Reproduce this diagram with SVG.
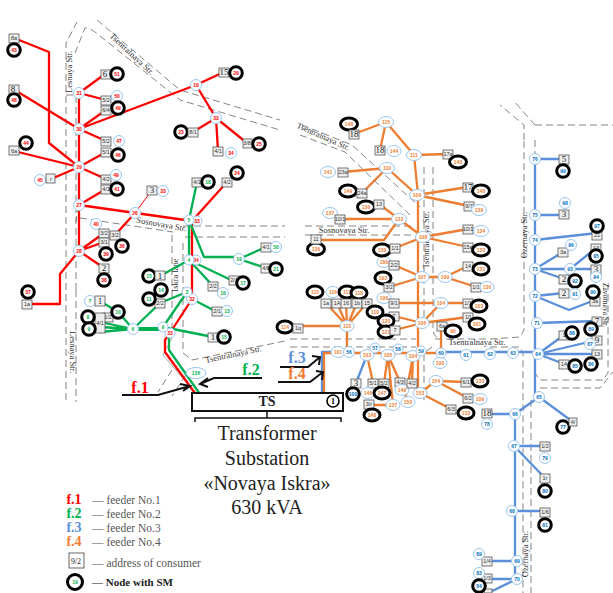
<svg xmlns="http://www.w3.org/2000/svg" width="613" height="593" viewBox="0 0 613 593">
<style>
text{font-family:"Liberation Serif",serif;text-anchor:middle}
.st{fill:none;stroke:#777;stroke-width:.9;stroke-dasharray:7 4}
.sl{font-size:8.5px;fill:#333}
.R,.G,.B,.O{fill:none;stroke-width:2.3;stroke-linejoin:round}
.R{stroke:#f00}.G{stroke:#00b050}.B{stroke:#5b8fd9}.O{stroke:#ed7d31}
.n{fill:#fff;stroke:#9cc6ee;stroke-width:1}
.s{fill:#fff;stroke:#000;stroke-width:3}
circle.s{r:6.3px}
.b{fill:#eee;stroke:#555;stroke-width:.8}
.bt{font-size:5.5px;fill:#333;font-family:"Liberation Sans",sans-serif}
.bb{font-size:9px;fill:#222}
.r,.g,.l,.o{font-size:5px;font-weight:bold;font-family:"Liberation Sans",sans-serif}
.r{fill:#f00}.g{fill:#00b050}.l{fill:#0070c0}.o{fill:#ed7d31}
.k{fill:none;stroke:#111;stroke-width:2}
.leg{font-size:11.5px;fill:#555}
.big{font-size:20px;fill:#222}
.f{font-weight:bold;font-size:16px}
.lf{font-weight:bold;font-size:14px}
</style>
<g id="streets">
<path class="st" d="M66 400V43L77 22"/>
<path class="st" d="M76 290V95H66M75 53L85 28Q88 27 95 32L180 100L280 130M97 20L180 90L280 120"/>
<path class="st" d="M302 125L352 145L420 207M300 135L345 152L410 215"/>
<path class="st" d="M80 218L173 232M78 205L76 222M183 226H285M185 237H285M305 226H413M305 235H413"/>
<path class="st" d="M172 235V338M183 243V353L192 360L285 341"/>
<path class="st" d="M76 290V402M172 370L158 392M186 375L172 396"/>
<path d="M172 338L163 355L186 382" fill="none" stroke="#aaa" stroke-width="1"/>
<path class="st" d="M290 339H416M290 347H416M435 339H490L520 337L524 330V140M432 347L424 353V400M490 347H520L523 353V593M531 400V593"/>
<path class="st" d="M424 167V330M433 167V330Q433 336 440 339"/>
<path class="st" d="M535 140V373L540 380H603L608 373V285M540 388H600L613 372M535 125H613M524 140L524 125L500 105M535 125L513 100"/>
<text class="sl" transform="translate(130,56) rotate(43)">Tsentralnaya Str.</text>
<text class="sl" transform="translate(72,72) rotate(-90)">Lesnaya Str.</text>
<text class="sl" transform="translate(70,352) rotate(90)">Lesnaya Str.</text>
<text class="sl" transform="translate(161,227) rotate(10)">Sosnovaya Str.</text>
<text class="sl" transform="translate(178,275) rotate(-90)">Iskra lane</text>
<text class="sl" transform="translate(234,357) rotate(-12)">Tsentralnaya Str.</text>
<text class="sl" transform="translate(322,139) rotate(24)">Tsentralnaya Str.</text>
<text class="sl" x="344" y="233">Sosnovaya Str.</text>
<text class="sl" transform="translate(429,240) rotate(-90)">Tsentralnaya Str.</text>
<text class="sl" x="477" y="345">Tsentralnaya Str.</text>
<text class="sl" transform="translate(527,235) rotate(-90)">Ozernaya Str.</text>
<text class="sl" transform="translate(528,554) rotate(-90)">Ozernaya Str.</text>
<text class="sl" style="font-size:7.5px" transform="translate(603,305) rotate(90)">Zavornaya Str.</text>
</g>
<g id="connectors">
<path class="R" d="M14 38L49 52V143L79 167M13 89L79 129M79 93V251L60 274V304H32M79 93L105 74M79 93L106 100M79 129L106 110M79 129L196 85M79 129L106 141M79 167L106 152M79 167L14 151M79 167L51 179M79 167L106 179M79 205L106 189M79 205L192 221M135 213L115 235M196 85L224 72M196 85L216 118L193 132M216 118L218 151M216 118L247 143M192 221L227 182M79 251L104 233M79 251L104 242M79 251L104 268M192 221V299L170 333L165 340V352L197 396"/>
<path class="R" style="stroke-width:1" d="M135 213L152 190"/>
<path class="G" d="M197 182L189 220V260M189 220L204 257H239M239 259L266 247M239 259L266 268M189 260L160 276M189 260L213 286M189 260L231 280M187 292L163 327M187 292L160 303L133 329M192 299L217 312M163 327L213 337M133 329L118 312L100 301M133 329L100 322M133 329L100 327M133 329L100 332M169 335V350L202 397"/>
<path class="G" style="stroke-width:4" d="M133 329H163"/>
<path class="B" d="M322 393V352H332M441 352H538M367 355L356 383M535 159V397M535 159H564M535 215H564M535 240L597 233M535 269L563 252M535 269H596M535 269L564 279M570 269L596 248M535 296L564 293M535 296L569 310L595 300M537 323L597 321M538 354L564 335M538 354L597 340M538 354L597 354M538 354L564 364M539 397L515 414V579M515 414H487M539 397L573 422M514 446H545M514 446L545 478M512 511H545M517 561H487M517 579H487M517 579L490 592"/>
<path class="O" d="M324 393V353H441M347 326V352M347 326L326 303M347 326L337 303M347 326L346 303M347 326L357 303M347 326L367 303M347 326H298M418 352V195L414 155L386 122L354 134M386 122L380 150M414 155L448 154M417 195L468 187M417 195L469 206M417 195L387 168L343 172M387 168L362 193M423 237L468 229M423 237L468 247M423 237L395 248M423 237L399 219L379 204M399 219L340 219M399 219L384 240H316M422 277L389 287M422 277L394 265M422 277H445L468 266M445 277L476 287M422 323L394 316M422 323L395 330M422 323L441 303M394 303H468M422 323L468 317M441 353V326M367 355L373 383M388 355L384 383M388 355L393 405H369M388 355L400 382M413 356L412 383M413 356L405 400M418 352V393H420L451 409M420 393L436 381L466 382M436 381L468 398"/>
<path class="k" d="M122 395H158L190 386M180 384L190 386L183 391M262 378H214L200 384M208 378L200 384L208 387M280 367H308L320 357M312 356L320 357L319 365M278 382H310L323 372M316 371L323 372L322 380"/>
</g>
<g id="red-nodes">
<g id="r43"><rect class="b" x="9" y="34" width="10" height="9"/><text class="bt" x="14" y="40">8a</text><circle class="s" cx="14" cy="50" r="6"/><text class="r" x="14" y="52">43</text></g>
<g id="r48"><rect class="b" x="9" y="85" width="10" height="9"/><text class="bb" x="13" y="92">8</text><circle class="s" cx="14" cy="100" r="6"/><text class="r" x="14" y="102">48</text></g>
<g id="r31"><circle class="n" cx="79" cy="93" r="5.5"/><text class="r" x="79" y="95">31</text></g>
<g id="r51"><rect class="b" x="101" y="70" width="10" height="9"/><text class="bb" x="105" y="77">6</text><circle class="s" cx="117" cy="74" r="6"/><text class="r" x="117" y="76">51</text></g>
<g id="r50"><rect class="b" x="101" y="96" width="10" height="9"/><text class="bt" x="106" y="102">5/2</text><circle class="n" cx="117" cy="96" r="5.5"/><text class="r" x="117" y="98">50</text></g>
<g id="r49"><rect class="b" x="101" y="106" width="10" height="9"/><text class="bt" x="106" y="112">6/4</text><circle class="s" cx="118" cy="108" r="6"/><text class="r" x="118" y="110">49</text></g>
<g id="r30"><circle class="n" cx="79" cy="129" r="5.5"/><text class="r" x="79" y="131">30</text></g>
<g id="r47"><rect class="b" x="101" y="137" width="10" height="9"/><text class="bt" x="106" y="143">5/2</text><circle class="n" cx="119" cy="141" r="5.5"/><text class="r" x="119" y="143">47</text></g>
<g id="r46"><rect class="b" x="101" y="148" width="10" height="9"/><text class="bt" x="106" y="154">5/1</text><circle class="s" cx="118" cy="155" r="6"/><text class="r" x="118" y="157">46</text></g>
<g id="r29"><circle class="n" cx="79" cy="167" r="5.5"/><text class="r" x="79" y="169">29</text></g>
<g id="r44"><rect class="b" x="9" y="146" width="10" height="9"/><text class="bt" x="14" y="153">6a</text><circle class="s" cx="26" cy="143" r="6"/><text class="r" x="26" y="145">44</text></g>
<g id="r45"><circle class="n" cx="40" cy="180" r="5.5"/><text class="r" x="40" y="182">45</text><rect class="b" x="46" y="174" width="9" height="9"/><text class="bt" x="51" y="181">r</text></g>
<g id="r42"><rect class="b" x="101" y="175" width="10" height="9"/><text class="bt" x="106" y="181">4/2</text><circle class="n" cx="116" cy="175" r="5.5"/><text class="r" x="116" y="177">49</text></g>
<g id="r41"><rect class="b" x="101" y="185" width="10" height="9"/><text class="bt" x="106" y="191">4/1</text><circle class="s" cx="117" cy="189" r="6"/><text class="r" x="117" y="191">41</text></g>
<g id="r27"><circle class="n" cx="79" cy="205" r="5.5"/><text class="r" x="79" y="207">27</text></g>
<g id="r26"><circle class="n" cx="135" cy="213" r="5.5"/><text class="r" x="135" y="215">26</text></g>
<g id="r33b"><rect class="b" x="147" y="186" width="10" height="9"/><text class="bb" x="152" y="193">3</text><circle class="n" cx="163" cy="191" r="5.5"/><text class="r" x="163" y="193">33</text></g>
<g id="r19"><circle class="n" cx="196" cy="85" r="5.5"/><text class="r" x="196" y="87">19</text></g>
<g id="r29b"><rect class="b" x="219" y="68" width="10" height="9"/><text class="bb" x="224" y="75">15</text><circle class="s" cx="236" cy="73" r="6"/><text class="r" x="236" y="75">29</text></g>
<g id="r33"><circle class="n" cx="216" cy="118" r="5.5"/><text class="r" x="216" y="120">33</text></g>
<g id="r23"><circle class="s" cx="181" cy="132" r="6"/><text class="r" x="181" y="134">23</text><rect class="b" x="188" y="128" width="10" height="9"/><text class="bt" x="193" y="134">8/1</text></g>
<g id="r34"><rect class="b" x="213" y="147" width="10" height="9"/><text class="bt" x="218" y="153">4/1</text><circle class="n" cx="231" cy="153" r="5.5"/><text class="r" x="231" y="155">34</text></g>
<g id="r25"><rect class="b" x="243" y="139" width="9" height="9"/><text class="bt" x="247" y="145">3/8</text><circle class="s" cx="259" cy="144" r="6"/><text class="r" x="259" y="146">25</text></g>
<g id="r24"><rect class="b" x="222" y="178" width="10" height="9"/><text class="bt" x="227" y="184">4/2</text><circle class="s" cx="237" cy="173" r="6"/><text class="r" x="237" y="175">24</text></g>
<g id="r40"><circle class="n" cx="96" cy="224" r="5.5"/><text class="r" x="96" y="226">40</text><rect class="b" x="99" y="229" width="10" height="9"/><text class="bt" x="104" y="235">3/2</text></g>
<g id="r39"><rect class="b" x="99" y="238" width="10" height="9"/><text class="bt" x="104" y="244">3/1</text><circle class="s" cx="106" cy="254" r="6"/><text class="r" x="106" y="256">39</text></g>
<g id="r36"><rect class="b" x="110" y="231" width="10" height="9"/><text class="bt" x="115" y="237">3/2</text><circle class="s" cx="122" cy="246" r="6"/><text class="r" x="122" y="248">36</text></g>
<g id="r38"><rect class="b" x="99" y="264" width="10" height="9"/><text class="bb" x="104" y="271">2</text><circle class="s" cx="104" cy="280" r="6"/><text class="r" x="104" y="282">38</text></g>
<g id="r28"><circle class="n" cx="79" cy="251" r="5.5"/><text class="r" x="79" y="253">28</text></g>
<g id="r37"><circle class="s" cx="28" cy="292" r="6"/><text class="r" x="28" y="294">37</text><rect class="b" x="22" y="300" width="10" height="9"/><text class="bt" x="27" y="306">1a</text></g>
<g id="r33c"><circle class="n" cx="197" cy="221" r="5"/><text class="r" x="197" y="223">33</text></g>
<g id="r34b"><circle class="n" cx="196" cy="260" r="5"/><text class="r" x="196" y="262">34</text></g>
<g id="r32"><circle class="n" cx="192" cy="299" r="5.5"/><text class="r" x="192" y="301">32</text></g>
<g id="r33d"><circle class="n" cx="170" cy="333" r="5"/><text class="r" x="170" y="335">33</text></g>
</g>
<g id="green-nodes">
<g id="g18"><rect class="b" x="192" y="178" width="10" height="9"/><text class="bt" x="197" y="184">4/1</text><circle class="s" cx="208" cy="182" r="6"/><text class="g" x="208" y="184">18</text></g>
<g id="g5"><circle class="n" cx="189" cy="220" r="5"/><text class="g" x="189" y="222">5</text></g>
<g id="g4"><circle class="n" cx="189" cy="260" r="5"/><text class="g" x="189" y="262">4</text></g>
<g id="g19"><circle class="n" cx="239" cy="259" r="5.5"/><text class="g" x="239" y="261">19</text></g>
<g id="g20"><rect class="b" x="261" y="243" width="10" height="9"/><text class="bt" x="266" y="249">4/1</text><circle class="n" cx="276" cy="247" r="5.5"/><text class="g" x="276" y="249">50</text></g>
<g id="g21"><rect class="b" x="261" y="264" width="10" height="9"/><text class="bt" x="266" y="270">4/8</text><circle class="s" cx="276" cy="269" r="6"/><text class="g" x="276" y="271">21</text></g>
<g id="g15"><circle class="s" cx="149" cy="276" r="6"/><text class="g" x="149" y="278">15</text><rect class="b" x="155" y="271" width="10" height="9"/><text class="bb" x="160" y="279">1</text></g>
<g id="g16"><rect class="b" x="208" y="282" width="10" height="9"/><text class="bt" x="213" y="288">2/2</text><circle class="n" cx="223" cy="293" r="5.5"/><text class="g" x="223" y="295">16</text></g>
<g id="g17"><rect class="b" x="229" y="276" width="10" height="9"/><text class="bt" x="234" y="282">2/1</text><circle class="s" cx="243" cy="283" r="6"/><text class="g" x="243" y="285">17</text></g>
<g id="g3"><circle class="n" cx="187" cy="292" r="5"/><text class="g" x="187" y="294">3</text></g>
<g id="g14"><rect class="b" x="155" y="299" width="10" height="9"/><text class="bt" x="160" y="305">2/2</text><circle class="s" cx="161" cy="290" r="6"/><text class="g" x="161" y="292">14</text></g>
<g id="g11"><circle class="s" cx="149" cy="299" r="6"/><text class="g" x="149" y="301">11</text></g>
<g id="g13"><rect class="b" x="212" y="307" width="10" height="9"/><text class="bt" x="217" y="313">2/1</text><circle class="n" cx="227" cy="311" r="5.5"/><text class="g" x="227" y="313">13</text></g>
<g id="g6"><circle class="n" cx="133" cy="329" r="5.5"/><text class="g" x="133" y="331">6</text></g>
<g id="g7"><circle class="n" cx="90" cy="301" r="5.5"/><text class="g" x="90" y="303">7</text><rect class="b" x="95" y="296" width="10" height="10"/><text class="bb" x="100" y="304">1</text></g>
<g id="g10"><rect class="b" x="103" y="313" width="10" height="9"/><text class="bt" x="108" y="319">1/2</text><circle class="s" cx="118" cy="312" r="6"/><text class="g" x="118" y="314">10</text></g>
<g id="g89"><rect class="b" x="95" y="313" width="10" height="20"/><text class="bt" x="100" y="325">4/1</text><circle class="s" cx="88" cy="317" r="6"/><text class="g" x="88" y="319">8</text><circle class="s" cx="89" cy="329" r="6"/><text class="g" x="89" y="331">9</text></g>
<g id="g9"><circle class="n" cx="163" cy="327" r="5"/><text class="g" x="163" y="329">9</text></g>
<g id="g15b"><rect class="b" x="208" y="333" width="10" height="9"/><text class="bb" x="213" y="340">1</text><circle class="s" cx="224" cy="337" r="6"/><text class="g" x="224" y="339">15</text></g>
<g id="g136"><ellipse class="n" cx="196" cy="373" rx="10" ry="5.5"/><text class="g" x="196" y="375">136</text></g>
</g>
<g id="orange-nodes">
<g id="o113"><ellipse class="n" cx="347" cy="326" rx="7" ry="5.5"/><text class="o" x="347" y="328">113</text></g>
<g id="o115"><ellipse class="s" cx="315" cy="292" rx="8" ry="6"/><text class="o" x="315" y="294">115</text><rect class="b" x="321" y="299" width="10" height="9"/><text class="bt" x="326" y="305">1a</text></g>
<g id="o116"><ellipse class="n" cx="333" cy="292" rx="7" ry="5.5"/><text class="o" x="333" y="294">116</text><rect class="b" x="332" y="299" width="10" height="9"/><text class="bt" x="337" y="305">1A</text></g>
<g id="o117"><ellipse class="s" cx="347" cy="292" rx="8" ry="6"/><text class="o" x="347" y="294">117</text><rect class="b" x="341" y="299" width="10" height="9"/><text class="bt" x="346" y="305">16</text></g>
<g id="o118"><ellipse class="s" cx="359" cy="293" rx="8" ry="6"/><text class="o" x="359" y="295">118</text><rect class="b" x="352" y="299" width="10" height="9"/><text class="bt" x="357" y="305">1b</text><rect class="b" x="362" y="299" width="10" height="9"/><text class="bt" x="367" y="305">15</text></g>
<g id="o114"><ellipse class="s" cx="285" cy="327" rx="8" ry="6"/><text class="o" x="285" y="329">114</text><rect class="b" x="293" y="324" width="10" height="9"/><text class="bt" x="298" y="330">1q</text></g>
<g id="o119"><ellipse class="s" cx="375" cy="312" rx="8" ry="6"/><text class="o" x="375" y="314">119</text><rect class="b" x="389" y="312" width="10" height="9"/><text class="bt" x="394" y="318">7</text></g>
<g id="o120"><ellipse class="s" cx="386" cy="321" rx="8" ry="6"/><text class="o" x="386" y="323">120</text></g>
<g id="o121"><ellipse class="s" cx="386" cy="332" rx="8" ry="6"/><text class="o" x="386" y="334">121</text><rect class="b" x="390" y="326" width="10" height="9"/><text class="bt" x="395" y="332">7</text></g>
<g id="o106"><ellipse class="n" cx="422" cy="323" rx="7" ry="5.5"/><text class="o" x="422" y="325">106</text></g>
<g id="o107"><ellipse class="n" cx="422" cy="277" rx="7" ry="5.5"/><text class="o" x="422" y="279">107</text></g>
<g id="o192"><ellipse class="s" cx="383" cy="278" rx="8" ry="6"/><text class="o" x="383" y="280">192</text><rect class="b" x="384" y="283" width="10" height="9"/><text class="bt" x="389" y="289">3/2</text></g>
<g id="o196"><ellipse class="n" cx="384" cy="298" rx="7" ry="5.5"/><text class="o" x="384" y="300">196</text><rect class="b" x="389" y="299" width="10" height="9"/><text class="bt" x="394" y="305">9/1</text></g>
<g id="o194"><ellipse class="n" cx="441" cy="303" rx="7" ry="5.5"/><text class="o" x="441" y="305">104</text></g>
<g id="o103"><rect class="b" x="463" y="299" width="10" height="9"/><text class="bt" x="468" y="305">1/1</text><ellipse class="s" cx="479" cy="306" rx="8" ry="6"/><text class="o" x="479" y="308">103</text></g>
<g id="o199"><ellipse class="n" cx="445" cy="277" rx="7" ry="5.5"/><text class="o" x="445" y="279">199</text></g>
<g id="o131"><rect class="b" x="463" y="262" width="10" height="9"/><text class="bt" x="468" y="268">14</text><ellipse class="s" cx="481" cy="269" rx="8" ry="6"/><text class="o" x="481" y="271">131</text></g>
<g id="o130"><rect class="b" x="471" y="283" width="10" height="9"/><text class="bt" x="476" y="289">1/1</text><ellipse class="n" cx="487" cy="287" rx="7" ry="5.5"/><text class="o" x="487" y="289">130</text></g>
<g id="o180"><ellipse class="n" cx="384" cy="262" rx="7" ry="5.5"/><text class="o" x="384" y="264">180</text><rect class="b" x="389" y="261" width="10" height="9"/><text class="bt" x="394" y="267">2/2</text></g>
<g id="o101"><rect class="b" x="463" y="313" width="10" height="9"/><text class="bt" x="468" y="319">10</text><ellipse class="s" cx="477" cy="324" rx="8" ry="6"/><text class="o" x="477" y="326">101</text></g>
<g id="o90"><rect class="b" x="437" y="322" width="10" height="9"/><text class="bt" x="442" y="328">6a</text><ellipse class="s" cx="453" cy="331" rx="8" ry="6"/><text class="o" x="453" y="333">90</text></g>
<g id="o154"><ellipse class="n" cx="436" cy="381" rx="7" ry="5.5"/><text class="o" x="436" y="383">154</text></g>
<g id="o133a"><rect class="b" x="461" y="378" width="10" height="9"/><text class="bt" x="466" y="384">6/1</text><ellipse class="s" cx="480" cy="381" rx="8" ry="6"/><text class="o" x="480" y="383">133</text></g>
<g id="o109b"><rect class="b" x="463" y="394" width="10" height="9"/><text class="bt" x="468" y="400">6/2</text><ellipse class="n" cx="480" cy="399" rx="7" ry="5.5"/><text class="o" x="480" y="401">109</text></g>
<g id="o153"><ellipse class="n" cx="420" cy="393" rx="7" ry="5.5"/><text class="o" x="420" y="395">153</text></g>
<g id="o133b"><rect class="b" x="446" y="405" width="10" height="9"/><text class="bt" x="451" y="411">6/3</text><ellipse class="s" cx="466" cy="413" rx="8" ry="6"/><text class="o" x="466" y="415">133</text></g>
<g id="o146"><rect class="b" x="368" y="379" width="10" height="9"/><text class="bt" x="373" y="385">5/1</text><ellipse class="n" cx="368" cy="393" rx="7" ry="5.5"/><text class="o" x="368" y="395">146</text></g>
<g id="o147"><rect class="b" x="379" y="379" width="10" height="9"/><text class="bt" x="384" y="385">5/2</text><ellipse class="s" cx="382" cy="393" rx="8" ry="6"/><text class="o" x="382" y="395">147</text></g>
<g id="o149"><rect class="b" x="395" y="378" width="10" height="9"/><text class="bt" x="400" y="384">4/3</text><ellipse class="n" cx="402" cy="390" rx="7" ry="5.5"/><text class="o" x="402" y="392">149</text></g>
<g id="o150"><rect class="b" x="407" y="379" width="10" height="9"/><text class="bt" x="412" y="385">4/2</text><ellipse class="n" cx="408" cy="402" rx="7" ry="5.5"/><text class="o" x="408" y="404">150</text></g>
<g id="o137"><ellipse class="n" cx="393" cy="405" rx="7" ry="5.5"/><text class="o" x="393" y="407">137</text></g>
<g id="o148"><rect class="b" x="364" y="400" width="10" height="9"/><text class="bt" x="369" y="406">3/r</text><ellipse class="s" cx="372" cy="415" rx="8" ry="6"/><text class="o" x="372" y="417">148</text></g>
<g id="o115t"><ellipse class="n" cx="386" cy="122" rx="7.5" ry="5.5"/><text class="o" x="386" y="124">115</text></g>
<g id="o148t"><ellipse class="s" cx="349" cy="124" rx="8.5" ry="6"/><text class="o" x="349" y="126">148</text><rect class="b" x="349" y="130" width="10" height="9"/><text class="bb" x="354" y="137">18</text></g>
<g id="o144"><rect class="b" x="375" y="146" width="10" height="9"/><text class="bb" x="380" y="153">18</text><ellipse class="n" cx="394" cy="151" rx="7" ry="5.5"/><text class="o" x="394" y="153">144</text></g>
<g id="o111"><ellipse class="n" cx="414" cy="155" rx="7.5" ry="5.5"/><text class="o" x="414" y="157">111</text></g>
<g id="o143"><rect class="b" x="443" y="150" width="10" height="9"/><text class="bt" x="448" y="156">17a</text><ellipse class="s" cx="458" cy="162" rx="8.5" ry="6"/><text class="o" x="458" y="164">143</text></g>
<g id="o110"><ellipse class="n" cx="387" cy="168" rx="7.5" ry="5.5"/><text class="o" x="387" y="170">110</text></g>
<g id="o141"><ellipse class="n" cx="328" cy="172" rx="7.5" ry="5.5"/><text class="o" x="328" y="174">141</text><rect class="b" x="338" y="168" width="10" height="9"/><text class="bt" x="343" y="174">23a</text></g>
<g id="o149t"><ellipse class="s" cx="348" cy="191" rx="8.5" ry="6"/><text class="o" x="348" y="193">149</text><rect class="b" x="357" y="189" width="10" height="9"/><text class="bt" x="362" y="195">24a</text></g>
<g id="o109"><ellipse class="n" cx="417" cy="195" rx="7.5" ry="5.5"/><text class="o" x="417" y="197">109</text></g>
<g id="o140"><rect class="b" x="463" y="183" width="10" height="9"/><text class="bb" x="468" y="190">17</text><ellipse class="s" cx="481" cy="191" rx="8.5" ry="6"/><text class="o" x="481" y="193">140</text></g>
<g id="o139"><rect class="b" x="464" y="202" width="10" height="9"/><text class="bt" x="469" y="208">9/7</text><ellipse class="n" cx="479" cy="210" rx="7.5" ry="5.5"/><text class="o" x="479" y="212">139</text></g>
<g id="o136"><ellipse class="s" cx="366" cy="207" rx="8.5" ry="6"/><text class="o" x="366" y="209">136</text><rect class="b" x="374" y="200" width="10" height="9"/><text class="bt" x="379" y="206">13</text></g>
<g id="o133t"><ellipse class="n" cx="399" cy="219" rx="7.5" ry="5.5"/><text class="o" x="399" y="221">133</text></g>
<g id="o137t"><ellipse class="n" cx="330" cy="213" rx="7.5" ry="5.5"/><text class="o" x="330" y="215">137</text><rect class="b" x="335" y="215" width="10" height="9"/><text class="bt" x="340" y="221">10/1</text></g>
<g id="o108"><ellipse class="n" cx="423" cy="237" rx="7.5" ry="5.5"/><text class="o" x="423" y="239">108</text></g>
<g id="o134"><rect class="b" x="463" y="225" width="10" height="9"/><text class="bt" x="468" y="231">10/1</text><ellipse class="n" cx="481" cy="231" rx="7.5" ry="5.5"/><text class="o" x="481" y="233">134</text></g>
<g id="o133c"><rect class="b" x="463" y="243" width="10" height="9"/><text class="bt" x="468" y="249">15a</text><ellipse class="s" cx="481" cy="250" rx="8.5" ry="6"/><text class="o" x="481" y="252">133</text></g>
<g id="o139b"><ellipse class="s" cx="382" cy="250" rx="8.5" ry="6"/><text class="o" x="382" y="252">139</text><rect class="b" x="390" y="244" width="10" height="9"/><text class="bt" x="395" y="250">1/1</text></g>
<g id="o136b"><ellipse class="s" cx="316" cy="249" rx="8.5" ry="6"/><text class="o" x="316" y="251">136</text><rect class="b" x="311" y="235" width="10" height="9"/><text class="bt" x="316" y="241">11</text></g>
<g id="o101b"><ellipse class="n" cx="338" cy="352" rx="7" ry="5.5"/><text class="o" x="338" y="354">101</text></g>
<g id="o103b"><ellipse class="n" cx="367" cy="355" rx="7" ry="5.5"/><text class="o" x="367" y="357">103</text></g>
<g id="o105"><ellipse class="n" cx="388" cy="355" rx="7" ry="5.5"/><text class="o" x="388" y="357">105</text></g>
<g id="o104"><ellipse class="n" cx="413" cy="356" rx="7" ry="5.5"/><text class="o" x="413" y="358">104</text></g>
<g id="o100"><ellipse class="n" cx="440" cy="363" rx="7" ry="5.5"/><text class="o" x="440" y="365">100</text></g>
</g>
<g id="blue-nodes">
<g id="l56"><circle class="n" cx="349" cy="352" r="5.5"/><text class="l" x="349" y="354">56</text></g>
<g id="l57"><circle class="n" cx="375" cy="348" r="5"/><text class="l" x="375" y="350">57</text></g>
<g id="l58"><circle class="n" cx="398" cy="349" r="5"/><text class="l" x="398" y="351">58</text></g>
<g id="l59"><circle class="n" cx="421" cy="351" r="5"/><text class="l" x="421" y="353">59</text></g>
<g id="l60"><circle class="n" cx="441" cy="353" r="5"/><text class="l" x="441" y="355">60</text></g>
<g id="l61"><circle class="n" cx="466" cy="355" r="5.5"/><text class="l" x="466" y="357">61</text></g>
<g id="l62"><circle class="n" cx="490" cy="354" r="5.5"/><text class="l" x="490" y="356">62</text></g>
<g id="l63"><circle class="n" cx="513" cy="353" r="5.5"/><text class="l" x="513" y="355">63</text></g>
<g id="l100"><rect class="b" x="351" y="379" width="10" height="9"/><text class="bb" x="356" y="386">3</text><circle class="s" cx="353" cy="394" r="6"/><text class="l" x="353" y="396">100</text></g>
<g id="l76"><circle class="n" cx="535" cy="159" r="5.5"/><text class="l" x="535" y="161">76</text></g>
<g id="l99"><rect class="b" x="559" y="155" width="10" height="9"/><text class="bb" x="564" y="162">5</text><circle class="s" cx="563" cy="171" r="6"/><text class="l" x="563" y="173">99</text></g>
<g id="l98"><circle class="n" cx="565" cy="203" r="5.5"/><text class="l" x="565" y="205">98</text><rect class="b" x="559" y="210" width="10" height="9"/><text class="bb" x="564" y="217">3</text></g>
<g id="l75"><circle class="n" cx="535" cy="215" r="5.5"/><text class="l" x="535" y="217">75</text></g>
<g id="l74"><circle class="n" cx="535" cy="240" r="5.5"/><text class="l" x="535" y="242">74</text></g>
<g id="l97"><rect class="b" x="592" y="231" width="10" height="9"/><text class="bt" x="597" y="237">21</text><circle class="s" cx="597" cy="226" r="6"/><text class="l" x="597" y="228">97</text></g>
<g id="l73"><circle class="n" cx="535" cy="269" r="5.5"/><text class="l" x="535" y="271">73</text></g>
<g id="l96"><rect class="b" x="558" y="248" width="10" height="9"/><text class="bt" x="563" y="254">3a</text><circle class="n" cx="571" cy="245" r="5.5"/><text class="l" x="571" y="247">96</text></g>
<g id="l93"><circle class="n" cx="570" cy="269" r="5.5"/><text class="l" x="570" y="271">93</text></g>
<g id="l94"><rect class="b" x="591" y="265" width="10" height="9"/><text class="bb" x="596" y="272">3</text><circle class="n" cx="596" cy="277" r="5.5"/><text class="l" x="596" y="279">94</text></g>
<g id="l95"><rect class="b" x="591" y="244" width="10" height="9"/><text class="bt" x="596" y="250">13</text><circle class="s" cx="596" cy="256" r="6"/><text class="l" x="596" y="258">95</text></g>
<g id="l92"><rect class="b" x="559" y="275" width="10" height="9"/><text class="bb" x="564" y="282">2</text><circle class="s" cx="575" cy="281" r="6"/><text class="l" x="575" y="283">92</text></g>
<g id="l72"><circle class="n" cx="535" cy="296" r="5.5"/><text class="l" x="535" y="298">72</text></g>
<g id="l91"><rect class="b" x="559" y="289" width="10" height="9"/><text class="bb" x="564" y="296">2</text><circle class="n" cx="575" cy="294" r="5.5"/><text class="l" x="575" y="296">91</text></g>
<g id="l90"><rect class="b" x="590" y="297" width="10" height="9"/><text class="bt" x="595" y="303">3a</text><circle class="s" cx="593" cy="292" r="6"/><text class="l" x="593" y="294">90</text></g>
<g id="l71"><circle class="n" cx="537" cy="323" r="5.5"/><text class="l" x="537" y="325">71</text></g>
<g id="l89"><rect class="b" x="592" y="317" width="10" height="9"/><text class="bb" x="597" y="324">7</text><circle class="s" cx="591" cy="329" r="6"/><text class="l" x="591" y="331">89</text></g>
<g id="l88"><rect class="b" x="559" y="331" width="10" height="9"/><text class="bt" x="564" y="337">1</text><circle class="s" cx="572" cy="333" r="6"/><text class="l" x="572" y="335">88</text></g>
<g id="l87"><rect class="b" x="592" y="336" width="10" height="9"/><text class="bb" x="597" y="343">9</text><circle class="n" cx="590" cy="344" r="5.5"/><text class="l" x="590" y="346">87</text></g>
<g id="l86"><rect class="b" x="592" y="350" width="10" height="9"/><text class="bt" x="597" y="356">13</text><circle class="s" cx="591" cy="364" r="6"/><text class="l" x="591" y="366">86</text></g>
<g id="l85"><rect class="b" x="559" y="360" width="10" height="9"/><text class="bt" x="564" y="366">14</text><circle class="s" cx="575" cy="366" r="6"/><text class="l" x="575" y="368">85</text></g>
<g id="l64"><circle class="n" cx="538" cy="354" r="5.5"/><text class="l" x="538" y="356">64</text></g>
<g id="l65"><circle class="n" cx="539" cy="397" r="5.5"/><text class="l" x="539" y="399">65</text></g>
<g id="l66"><circle class="n" cx="515" cy="414" r="5.5"/><text class="l" x="515" y="416">66</text></g>
<g id="l78"><rect class="b" x="482" y="409" width="10" height="9"/><text class="bb" x="487" y="416">18</text><circle class="n" cx="487" cy="424" r="5.5"/><text class="l" x="487" y="426">78</text></g>
<g id="l77"><circle class="s" cx="563" cy="427" r="6"/><text class="l" x="563" y="429">77</text><rect class="b" x="569" y="418" width="8" height="8"/><text class="bt" x="573" y="424">4/</text></g>
<g id="l67"><circle class="n" cx="514" cy="446" r="5.5"/><text class="l" x="514" y="448">67</text></g>
<g id="l79"><rect class="b" x="540" y="442" width="10" height="9"/><text class="bt" x="545" y="448">1/2</text><circle class="n" cx="545" cy="458" r="5.5"/><text class="l" x="545" y="460">79</text></g>
<g id="l80"><rect class="b" x="540" y="474" width="10" height="9"/><text class="bt" x="545" y="480">1r</text><circle class="s" cx="545" cy="491" r="6"/><text class="l" x="545" y="493">80</text></g>
<g id="l68"><circle class="n" cx="512" cy="511" r="5.5"/><text class="l" x="512" y="513">68</text></g>
<g id="l81"><rect class="b" x="540" y="508" width="10" height="9"/><text class="bt" x="545" y="514">1/6</text><circle class="s" cx="545" cy="525" r="6"/><text class="l" x="545" y="527">81</text></g>
<g id="l69"><circle class="n" cx="517" cy="561" r="5.5"/><text class="l" x="517" y="563">69</text></g>
<g id="l82"><rect class="b" x="482" y="557" width="10" height="9"/><text class="bt" x="487" y="563">1/4</text><circle class="n" cx="479" cy="554" r="5.5"/><text class="l" x="479" y="556">89</text></g>
<g id="l70"><circle class="n" cx="517" cy="579" r="5.5"/><text class="l" x="517" y="581">70</text></g>
<g id="l83"><rect class="b" x="482" y="574" width="10" height="9"/><text class="bt" x="487" y="580">1/3</text><circle class="n" cx="479" cy="573" r="5.5"/><text class="l" x="479" y="575">83</text></g>
<g id="l84"><rect class="b" x="484" y="589" width="8" height="4"/><circle class="s" cx="479" cy="586" r="6"/><text class="l" x="479" y="588">84</text></g>
</g>
<g id="ts">
<rect x="192" y="393" width="151" height="18" fill="#fff" stroke="#111" stroke-width="2"/>
<text x="267" y="406" font-size="14" font-weight="bold" fill="#222">TS</text>
<circle cx="333" cy="401" r="6" fill="#fff" stroke="#000" stroke-width="1.6"/><text x="333" y="404" font-size="8" font-weight="bold">1</text>
<path d="M267 411V418M195 422V418H341V422" fill="none" stroke="#111" stroke-width="1.5"/>
<text class="big" x="267" y="440">Transformer</text>
<text class="big" x="267" y="465">Substation</text>
<text class="big" x="267" y="490">«Novaya Iskra»</text>
<text class="big" x="267" y="514">630 kVA</text>
</g>
<g id="feeder-labels">
<text class="f" x="140" y="393" fill="#f00">f.1</text>
<text class="f" x="251" y="375" fill="#00b050">f.2</text>
<text class="f" x="297" y="363" fill="#5b8fd9">f.3</text>
<text class="f" x="297" y="379" fill="#ed7d31">f.4</text>
</g>
<g id="legend">
<text class="lf" x="74" y="504" fill="#f00">f.1</text><text class="leg" x="92" y="504" style="text-anchor:start">— feeder No.1</text>
<text class="lf" x="74" y="518" fill="#00b050">f.2</text><text class="leg" x="92" y="518" style="text-anchor:start">— feeder No.2</text>
<text class="lf" x="74" y="532" fill="#5b8fd9">f.3</text><text class="leg" x="92" y="532" style="text-anchor:start">— feeder No.3</text>
<text class="lf" x="74" y="546" fill="#ed7d31">f.4</text><text class="leg" x="92" y="546" style="text-anchor:start">— feeder No.4</text>
<rect x="69" y="553" width="15" height="15" fill="#fff" stroke="#555" stroke-width=".9"/><text x="76" y="564" font-size="8" fill="#222" font-family="Liberation Sans, sans-serif">9/2</text>
<text class="leg" x="92" y="567" style="text-anchor:start">— address of consumer</text>
<circle class="s" cx="75" cy="582" r="7.5" style="r:7.5px"/><text class="g" x="75" y="584">19</text>
<text class="leg" x="92" y="586" style="text-anchor:start;font-weight:bold;fill:#222;font-size:11px">— Node with SM</text>
</g>
</svg>
